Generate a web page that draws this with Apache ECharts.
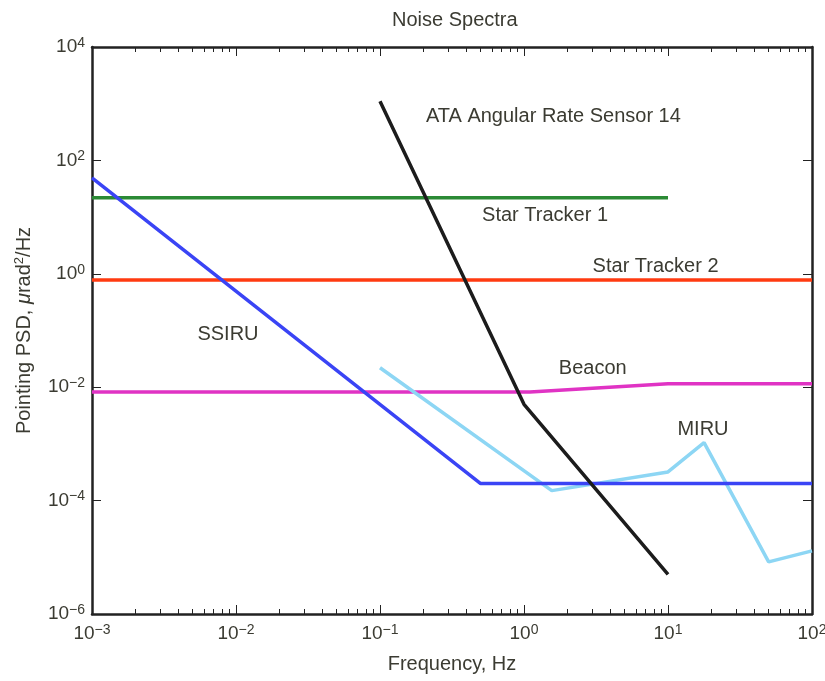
<!DOCTYPE html>
<html>
<head>
<meta charset="utf-8">
<script src="https://cdn.jsdelivr.net/npm/echarts@6/dist/echarts.min.js"></script>
<style>
  html, body { margin: 0; padding: 0; background: #fff; }
  #chart { width: 825px; height: 681px; }
</style>
</head>
<body>
<div id="chart"></div>
<script>
// noise spectra [frequency Hz, PSD]
var ssiru = [[0.001, 49], [0.5, 0.0002], [100, 0.0002]];
var starTracker1 = [[0.001, 22], [10, 22]];
var starTracker2 = [[0.001, 0.78], [100, 0.78]];
var beacon = [[0.001, 0.0082], [1.1, 0.0082], [10, 0.0115], [100, 0.0115]];
var ata = [[0.1, 1100], [1, 0.005], [10, 0.000005]];
var miru = [[0.1, 0.022], [1.56, 0.00015], [10, 0.00032], [17.8, 0.00105], [50, 0.0000083], [100, 0.000013]];

// where each curve's name is written (data coords)
var labelAt = {
  'SSIRU': [0.0088, 0.085],
  'Star Tracker 1': [1.4, 10.5],
  'Star Tracker 2': [8.2, 1.37],
  'Beacon': [3.0, 0.021],
  'ATA Angular Rate Sensor 14': [1.6, 590],
  'MIRU': [17.5, 0.0018]
};

// minor tick positions on the frequency axis
var minorX = [];
for (var e = -3; e < 2; e++) {
  for (var m = 2; m <= 9; m++) minorX.push(m * Math.pow(10, e));
}

var textColor = '#3b3b32';
var font = 'Liberation Sans';

function pow10(v) {
  var ex = Math.round(Math.log10(v));
  var s = ex < 0 ? '\u2212' + (-ex) : '' + ex;
  return '{b|10}{s|' + s + '}';
}
var richTick = {
  b: { fontSize: 19, fontFamily: font, color: textColor, lineHeight: 22 },
  s: { fontSize: 14, fontFamily: font, color: textColor, lineHeight: 14, verticalAlign: 'top' }
};

function makeSeries(name, data, color) {
  return {
    name: name,
    type: 'line',
    data: data,
    showSymbol: false,
    symbol: 'none',
    lineStyle: { color: color, width: 3.5 },
    itemStyle: { color: color },
    silent: true,
    z: 3,
    markPoint: {
      symbol: 'circle',
      symbolSize: 0,
      label: {
        show: true,
        position: 'inside',
        formatter: name,
        fontSize: 20,
        fontFamily: font,
        color: textColor
      },
      data: [{ coord: labelAt[name] }]
    }
  };
}

var logX = { type: 'log', logBase: 10, min: 0.001, max: 100 };
var logY = { type: 'log', logBase: 10, min: 0.000001, max: 10000, interval: 2 };

var chart = echarts.init(document.getElementById('chart'));
chart.setOption({
  animation: false,
  title: {
    text: 'Noise Spectra',
    left: 387, top: 5,
    textStyle: { fontSize: 20, fontWeight: 'normal', fontFamily: font, color: textColor }
  },
  grid: { left: 92, right: 13, top: 47, bottom: 67, show: false, containLabel: false, outerBoundsMode: 'none' },
  xAxis: [
    Object.assign({}, logX, {
      position: 'bottom',
      name: 'Frequency, Hz',
      nameLocation: 'middle',
      nameGap: 40,
      nameTextStyle: { fontSize: 20, fontFamily: font, color: textColor },
      axisLine: { show: true, lineStyle: { color: '#222', width: 2.5 } },
      axisTick: { show: true, inside: true, length: 9, lineStyle: { color: '#222', width: 1 } },
      axisLabel: { formatter: pow10, rich: richTick, margin: 9, showMinLabel: true, showMaxLabel: true },
      splitLine: { show: false }
    }),
    Object.assign({}, logX, {
      position: 'top',
      axisLine: { show: true, lineStyle: { color: '#222', width: 2.5 } },
      axisTick: { show: true, inside: true, length: 9, lineStyle: { color: '#222', width: 1 } },
      axisLabel: { show: false },
      splitLine: { show: false }
    }),
    Object.assign({}, logX, {
      position: 'bottom',
      axisLine: { show: false },
      axisTick: { show: true, inside: true, length: 5, customValues: minorX, lineStyle: { color: '#222', width: 1 } },
      axisLabel: { show: false },
      splitLine: { show: false }
    }),
    Object.assign({}, logX, {
      position: 'top',
      axisLine: { show: false },
      axisTick: { show: true, inside: true, length: 5, customValues: minorX, lineStyle: { color: '#222', width: 1 } },
      axisLabel: { show: false },
      splitLine: { show: false }
    })
  ],
  yAxis: [
    Object.assign({}, logY, {
      position: 'left',
      name: 'Pointing PSD, {i|\u03bc}rad{s|2}/Hz',
      nameLocation: 'middle',
      nameGap: 57,
      nameRotate: 90,
      nameTextStyle: {
        fontSize: 20, fontFamily: font, color: textColor, lineHeight: 22,
        rich: {
          i: { fontSize: 20, fontFamily: font, fontStyle: 'italic', color: textColor, lineHeight: 22 },
          s: { fontSize: 13, fontFamily: font, color: textColor, lineHeight: 14, verticalAlign: 'top' }
        }
      },
      axisLine: { show: true, lineStyle: { color: '#222', width: 2.5 } },
      axisTick: { show: true, inside: true, length: 9, lineStyle: { color: '#222', width: 1 } },
      axisLabel: { formatter: pow10, rich: richTick, margin: 7 },
      splitLine: { show: false }
    }),
    Object.assign({}, logY, {
      position: 'right',
      axisLine: { show: true, lineStyle: { color: '#222', width: 2.5 } },
      axisTick: { show: true, inside: true, length: 9, lineStyle: { color: '#222', width: 1 } },
      axisLabel: { show: false },
      splitLine: { show: false }
    })
  ],
  series: [
    makeSeries('Star Tracker 1', starTracker1, '#2b8a35'),
    makeSeries('Star Tracker 2', starTracker2, '#ff3a10'),
    makeSeries('Beacon', beacon, '#e033c4'),
    makeSeries('MIRU', miru, '#8dd6f4'),
    makeSeries('SSIRU', ssiru, '#3a44f5'),
    makeSeries('ATA Angular Rate Sensor 14', ata, '#1c1c1c')
  ]
});
</script>
</body>
</html>
